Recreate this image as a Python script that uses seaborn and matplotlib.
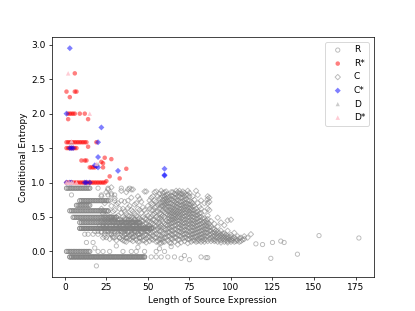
import numpy as np
import matplotlib
matplotlib.use("Agg")
import matplotlib.pyplot as plt
import seaborn as sns

# R: gray open circles, mostly on fixed entropy levels
r_levels = [0.918, 0.82, 0.737, 0.67, 0.59, 0.495, 0.46, 0.42, 0.375, 0.335, 0.29, 0.25, 0.2, 0.13, 0.0, -0.08]
r_level_repeat = [2, 1, 2, 2, 2, 2, 1, 2, 1, 3, 1, 1, 1, 1, 2, 3]
r_level_x = [
    [1, 2, 3, 4, 5, 6, 7, 8, 9, 10, 11, 12, 13, 14, 15],
    [4, 22, 26, 28, 30],
    [9, 10, 11, 12, 13, 14, 15, 16, 17, 18, 19, 20, 21, 22, 23, 24, 25, 26],
    [7, 8, 9, 10, 11, 12, 13, 14, 15],
    [3, 4, 5, 6, 7, 8, 9, 10, 11, 12, 13, 14, 15, 16, 17, 18, 19, 20, 21, 22, 23, 24, 25, 26],
    [5, 6, 7, 8, 9, 10, 11, 12, 13, 14, 15, 16, 17, 18, 19, 20, 21, 22, 23, 24, 25, 26, 27, 28, 29, 30, 31],
    [24, 26, 28, 30, 32, 34, 36, 38, 40, 42, 44],
    [9, 10, 11, 12, 13, 14, 15, 16, 17, 18, 19, 20, 21, 22, 23, 24, 25, 26, 27, 28, 29, 30, 31, 32, 33,
     34, 35, 36, 37, 38, 39, 40, 41, 42, 43, 44, 45],
    [21, 23, 25, 27, 29, 31, 33, 35, 37, 39, 41, 43, 45, 47],
    [9, 10, 11, 12, 13, 14, 15, 16, 17, 18, 19, 20, 21, 22, 23, 24, 25, 26, 27, 28, 29, 30, 31, 32, 33,
     34, 35, 36, 37, 38, 39, 40, 41, 42, 43, 44, 45, 46, 47, 48, 49, 50, 51, 52],
    [18, 20, 22, 24, 26, 28, 30, 32, 34, 36, 38, 40, 42, 44, 46, 48, 50],
    [12, 14, 17, 20, 24, 28, 32, 36, 40, 44],
    [25, 29, 33, 37, 41, 45],
    [13, 17],
    [1, 2, 3, 4, 5, 6, 7, 8, 9, 10, 11, 12, 13, 14, 15],
    [3, 4, 5, 6, 7, 8, 9, 10, 11, 12, 13, 14, 15, 16, 17, 18, 19, 20, 21, 22, 23, 24, 25, 26, 27, 28,
     29, 30, 31, 32, 33, 34, 35, 36, 37, 38, 39, 40, 41, 42, 43, 44, 45, 46, 47, 48],
]
r_extra_x = [20, 26, 34, 39, 30, 34, 38,
             20, 23, 27, 35, 40, 43, 48, 55, 60,
             52, 55, 58, 62, 66,
             19, 70, 75, 72, 85, 124, 140, 115, 119, 125, 130, 132, 153, 177, 82, 86,
             18, 31, 44, 57, 64]
r_extra_y = [0.918, 0.918, 0.918, 0.918, 0.737, 0.737, 0.737,
             0.0, 0.0, 0.0, 0.0, 0.0, 0.0, 0.0, 0.0, 0.0,
             -0.08, -0.08, -0.08, -0.08, -0.08,
             -0.21, -0.1, -0.12, -0.06, -0.09, -0.10, -0.04, 0.11, 0.10, 0.13, 0.15, 0.13, 0.23, 0.195,
             -0.08, -0.09,
             0.05, 0.08, 0.06, 0.04, 0.07]

# R*: red circles
r_star_x = [6, 1, 6, 7, 3,
            2, 3, 4, 5, 6, 9, 12, 2, 14,
            1, 2, 3, 4, 5, 6, 7, 8, 9, 10, 11, 12, 13, 19,
            1, 2, 3, 4, 5, 6, 7, 14,
            10, 12, 13, 24, 28, 22, 23, 15, 16, 17, 18, 23, 37, 33, 27, 25,
            1, 2, 3, 4, 5, 6, 7, 8, 9, 10, 11, 12, 13, 14, 15, 16, 17, 18, 19, 20, 21, 22, 23, 24]
r_star_y = [2.585, 2.32, 2.32, 2.32, 2.24,
            2.0, 2.0, 2.0, 2.0, 2.0, 2.0, 2.0, 1.92, 1.92,
            1.585, 1.585, 1.585, 1.585, 1.585, 1.585, 1.585, 1.585, 1.585, 1.585, 1.585, 1.585, 1.585, 1.585,
            1.5, 1.5, 1.5, 1.5, 1.5, 1.5, 1.5, 1.52,
            1.32, 1.32, 1.32, 1.36, 1.34, 1.30, 1.28, 1.22, 1.22, 1.22, 1.22, 1.22, 1.2, 1.06, 1.09, 1.02,
            1.0, 1.0, 1.0, 1.0, 1.0, 1.0, 1.0, 1.0, 1.0, 1.0, 1.0, 1.0, 1.0, 1.0, 1.0, 1.0, 1.0, 1.0, 1.0,
            1.0, 1.0, 1.0, 1.0, 1.0]

# C: gray open diamonds, one list of entropies per source length
c_cols = list(range(22, 109)) + [110, 112]
c_vals = [
    [0.28, 0.45, 0.62, 0.8],                       # 22
    [0.2, 0.36, 0.55],
    [0.22, 0.35, 0.52, 0.7],
    [0.3, 0.44, 0.86],
    [0.3, 0.42, 0.58, 0.9],
    [0.18, 0.26, 0.5, 0.74],
    [0.25, 0.38, 0.5, 0.66, 0.84, 0.93],
    [0.22, 0.32, 0.44, 0.58],
    [0.2, 0.33, 0.46, 0.6, 0.77],                   # 30
    [0.16, 0.28, 0.38, 0.5, 0.68],
    [0.27, 0.4, 0.52, 0.7],
    [0.2, 0.3, 0.36, 0.46, 0.62],
    [0.18, 0.3, 0.44, 0.56, 0.88],
    [0.16, 0.22, 0.27, 0.33, 0.38, 0.44, 0.5, 0.62],
    [0.15, 0.24, 0.32, 0.4, 0.48, 0.58, 0.72],
    [0.14, 0.2, 0.25, 0.31, 0.36, 0.42, 0.47, 0.55, 0.86],
    [0.2, 0.28, 0.36, 0.44, 0.52, 0.63, 0.9],
    [0.18, 0.23, 0.29, 0.34, 0.4, 0.45, 0.51, 0.66],
    [0.17, 0.26, 0.34, 0.42, 0.5, 0.6, 0.78, 0.9],  # 40
    [0.15, 0.21, 0.26, 0.32, 0.37, 0.43, 0.49, 0.58, 0.9],
    [0.22, 0.3, 0.38, 0.46, 0.55, 0.68],
    [0.17, 0.22, 0.28, 0.33, 0.39, 0.44, 0.52, 0.7],
    [0.14, 0.25, 0.33, 0.41, 0.5, 0.62, 0.8],
    [0.14, 0.2, 0.25, 0.31, 0.36, 0.42, 0.48, 0.6, 0.76],
    [0.2, 0.28, 0.37, 0.45, 0.56, 0.72],
    [0.16, 0.22, 0.27, 0.33, 0.38, 0.44, 0.5, 0.64],
    [0.16, 0.24, 0.32, 0.4, 0.48, 0.6, 0.87],
    [0.13, 0.19, 0.24, 0.3, 0.35, 0.41, 0.47, 0.56, 0.87],
    [0.21, 0.29, 0.36, 0.44, 0.52, 0.66],          # 50
    [0.15, 0.21, 0.26, 0.32, 0.37, 0.43, 0.49, 0.62, 0.74],
    [0.18, 0.26, 0.34, 0.42, 0.5, 0.6, 0.7, 0.78],
    [0.17, 0.23, 0.28, 0.34, 0.4, 0.46, 0.53, 0.6, 0.68, 0.8],
    [0.2, 0.3, 0.38, 0.46, 0.55, 0.64, 0.74, 0.86],
    [0.14, 0.2, 0.26, 0.31, 0.37, 0.43, 0.5, 0.57, 0.65, 0.72, 0.87],
    [0.15, 0.24, 0.33, 0.4, 0.48, 0.58, 0.68, 0.8],
    [0.12, 0.18, 0.24, 0.3, 0.36, 0.42, 0.48, 0.55, 0.62, 0.7, 0.77, 0.84],
    [0.12, 0.18, 0.22, 0.3, 0.34, 0.38, 0.46, 0.5, 0.54, 0.62, 0.66, 0.7, 0.78, 0.88],
    [0.14, 0.18, 0.26, 0.35, 0.43, 0.52, 0.6, 0.66, 0.71, 0.75, 0.8, 0.85],
    [0.14, 0.2, 0.26, 0.33, 0.41, 0.5, 0.57, 0.63, 0.68, 0.72, 0.76, 0.8, 0.86],              # 60
    [0.2, 0.26, 0.32, 0.39, 0.45, 0.55, 0.61, 0.65, 0.69, 0.73, 0.77, 0.82, 0.87],
    [0.16, 0.22, 0.28, 0.33, 0.38, 0.43, 0.48, 0.53, 0.58, 0.65, 0.7, 0.74, 0.79, 0.83],
    [0.13, 0.22, 0.28, 0.34, 0.39, 0.44, 0.48, 0.52, 0.56, 0.6, 0.65, 0.7, 0.75, 0.79],
    [0.12, 0.19, 0.25, 0.31, 0.36, 0.41, 0.46, 0.51, 0.56, 0.6, 0.64, 0.7, 0.76, 0.81, 0.86],
    [0.18, 0.24, 0.3, 0.36, 0.42, 0.46, 0.5, 0.55, 0.59, 0.64, 0.68, 0.74, 0.8, 0.86],
    [0.14, 0.2, 0.26, 0.32, 0.38, 0.43, 0.47, 0.51, 0.54, 0.58, 0.62, 0.67, 0.72, 0.78, 0.84],
    [0.2, 0.26, 0.32, 0.38, 0.44, 0.48, 0.52, 0.56, 0.6, 0.65, 0.7, 0.74, 0.78, 0.83, 0.88],
    [0.1, 0.17, 0.24, 0.3, 0.35, 0.4, 0.45, 0.5, 0.55, 0.59, 0.64, 0.69, 0.74, 0.8, 0.86],
    [0.17, 0.23, 0.29, 0.35, 0.4, 0.45, 0.5, 0.54, 0.58, 0.62, 0.67, 0.72, 0.8, 0.84, 0.88],
    [0.13, 0.22, 0.28, 0.33, 0.38, 0.43, 0.48, 0.53, 0.57, 0.62, 0.67, 0.72, 0.78, 0.84],     # 70
    [0.19, 0.25, 0.3, 0.36, 0.41, 0.46, 0.5, 0.55, 0.6, 0.64, 0.68, 0.73, 0.78, 0.83, 0.87],
    [0.15, 0.2, 0.25, 0.31, 0.36, 0.41, 0.46, 0.51, 0.56, 0.61, 0.65, 0.7, 0.75, 0.8, 0.85],
    [0.2, 0.26, 0.31, 0.37, 0.42, 0.47, 0.52, 0.57, 0.61, 0.66, 0.7, 0.76, 0.82],
    [0.12, 0.18, 0.24, 0.3, 0.35, 0.4, 0.45, 0.5, 0.55, 0.6, 0.64, 0.69, 0.74, 0.82, 0.88],
    [0.18, 0.23, 0.28, 0.34, 0.39, 0.44, 0.49, 0.54, 0.58, 0.63, 0.68, 0.74, 0.8, 0.85],
    [0.14, 0.2, 0.25, 0.3, 0.36, 0.41, 0.46, 0.51, 0.55, 0.6, 0.63, 0.68, 0.72],
    [0.16, 0.2, 0.25, 0.3, 0.35, 0.4, 0.45, 0.5, 0.55, 0.6, 0.65, 0.7, 0.8],
    [0.16, 0.21, 0.26, 0.31, 0.35, 0.4, 0.44, 0.49, 0.54, 0.6, 0.66, 0.75],
    [0.14, 0.22, 0.27, 0.32, 0.37, 0.42, 0.47, 0.52, 0.57, 0.62, 0.88],
    [0.15, 0.18, 0.23, 0.28, 0.33, 0.38, 0.43, 0.48, 0.53, 0.58, 0.7, 0.82],                  # 80
    [0.16, 0.2, 0.24, 0.29, 0.34, 0.39, 0.44, 0.5, 0.55, 0.65],
    [0.14, 0.2, 0.25, 0.3, 0.35, 0.4, 0.45, 0.5, 0.56, 0.62, 0.74],
    [0.16, 0.21, 0.26, 0.31, 0.36, 0.42, 0.48],
    [0.14, 0.18, 0.23, 0.28, 0.33, 0.38, 0.43, 0.48, 0.58, 0.7],
    [0.17, 0.22, 0.27, 0.32, 0.37, 0.41, 0.45],
    [0.15, 0.22, 0.27, 0.32, 0.37, 0.42, 0.47, 0.52, 0.62, 0.7, 0.76, 0.8],
    [0.18, 0.24, 0.3, 0.35, 0.4, 0.6, 0.72, 0.78],
    [0.15, 0.2, 0.25, 0.3, 0.36, 0.44],
    [0.17, 0.22, 0.27, 0.33],
    [0.15, 0.18, 0.23, 0.28, 0.32, 0.4],           # 90
    [0.16, 0.21, 0.26, 0.3],
    [0.14, 0.2, 0.24, 0.28, 0.36, 0.49],
    [0.17, 0.22, 0.27],
    [0.13, 0.16, 0.2, 0.24, 0.3, 0.42],
    [0.18, 0.22, 0.26],
    [0.14, 0.18, 0.22, 0.26, 0.38],
    [0.16, 0.2, 0.24],
    [0.13, 0.15, 0.19, 0.22, 0.3, 0.45],
    [0.17, 0.21],
    [0.14, 0.17, 0.21, 0.24, 0.46],               # 100
    [0.16, 0.19],
    [0.14, 0.2, 0.27],
    [0.15, 0.18],
    [0.16, 0.22],
    [0.14, 0.19],
    [0.15, 0.2],
    [0.17],
    [0.18, 0.22],                                   # 108
    [0.2],
    [0.25],
]

# C*: blue diamonds
c_star_x = [3, 1, 22, 20, 3, 4, 5, 20, 19, 20, 18, 32, 60, 60, 60, 12, 13, 15, 3, 4, 1]
c_star_y = [2.95, 2.0, 1.8, 1.585, 1.5, 1.5, 1.5, 1.37, 1.24, 1.22, 1.25, 1.17, 1.2, 1.1, 1.11, 1.0, 1.0, 1.0,
            1.0, 1.0, 1.0]

# D: gray triangles, D*: pink triangles
d_x = [4, 4, 20]
d_y = [1.585, 1.0, 1.27]
d_star_x = [2, 15, 1, 2, 3, 4, 5, 7, 4, 19]
d_star_y = [2.585, 2.0, 1.0, 1.0, 1.0, 1.0, 1.0, 1.0, 1.6, 1.27]

r_x = [x for xs, n in zip(r_level_x, r_level_repeat) for x in xs * n] + r_extra_x
r_y = [lv for lv, xs, n in zip(r_levels, r_level_x, r_level_repeat) for _ in xs * n] + r_extra_y
c_x = [x for x, vs in zip(c_cols, c_vals) for _ in vs]
c_y = [v for vs in c_vals for v in vs]

fig, ax = plt.subplots(figsize=(415 / 65, 311 / 65), dpi=65)

sns.scatterplot(x=r_x, y=r_y, marker='o', s=22, facecolors='none', edgecolor='gray',
                linewidth=1.0, alpha=0.55, label='R', ax=ax)
sns.scatterplot(x=r_star_x, y=r_star_y, marker='o', s=25, color='red', edgecolor='none',
                alpha=0.5, label='R*', ax=ax)
sns.scatterplot(x=c_x, y=c_y, marker='D', s=18, facecolors='none', edgecolor='gray',
                linewidth=1.0, alpha=0.55, label='C', ax=ax)
sns.scatterplot(x=c_star_x, y=c_star_y, marker='D', s=22, color='blue', edgecolor='none',
                alpha=0.5, label='C*', ax=ax)
sns.scatterplot(x=d_x, y=d_y, marker='^', s=22, color='gray', edgecolor='none',
                alpha=0.4, label='D', ax=ax)
sns.scatterplot(x=d_star_x, y=d_star_y, marker='^', s=25, color='pink', edgecolor='none',
                alpha=0.8, label='D*', ax=ax)

ax.set_xlabel('Length of Source Expression')
ax.set_ylabel('Conditional Entropy')
ax.legend(loc='upper right')

fig.savefig('out.png', dpi=65)
